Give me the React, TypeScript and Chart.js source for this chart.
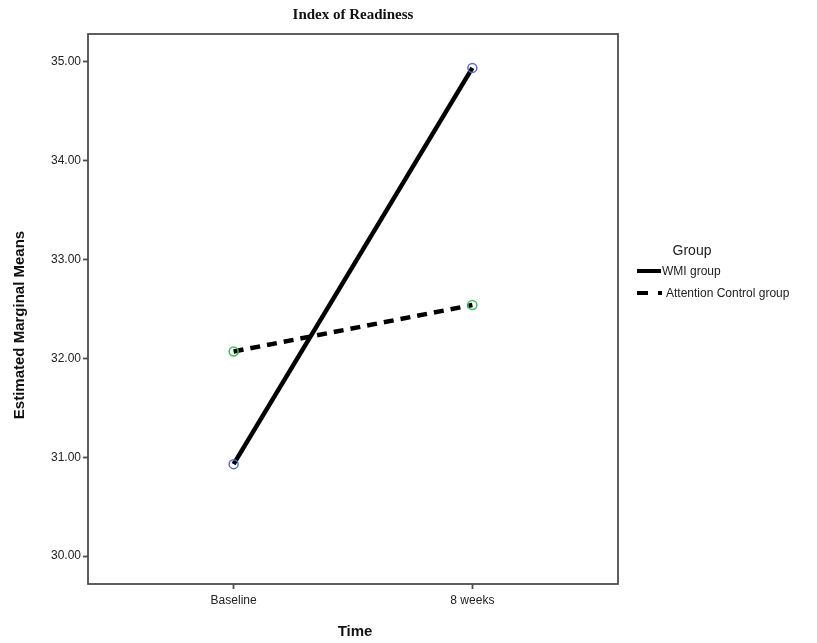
import React, { useEffect, useRef } from "react";
import { Chart, registerables } from "chart.js";

Chart.register(...registerables);

// Time points (x positions 1 and 2 on a linear scale)
const timeLabels = ["Baseline", "8 weeks"];
const timeValues = [1, 2];

// Estimated marginal means per group
const wmiMeans = [30.93, 34.94];
const controlMeans = [32.07, 32.54];

const yTicks = [30, 31, 32, 33, 34, 35];

const groupNames = ["WMI group", "Attention Control group"];
const chartTitle = "Index of Readiness";
const yTitle = "Estimated Marginal Means";
const xTitle = "Time";
const legendTitle = "Group";

const W = 817;
const H = 643;

const framePlugin = {
  id: "spssFrame",
  afterDraw(chart: any) {
    const ctx = chart.ctx;
    const a = chart.chartArea;
    ctx.save();
    // plot frame
    ctx.strokeStyle = "#4d4d4d";
    ctx.lineWidth = 1.8;
    ctx.strokeRect(a.left, a.top, a.right - a.left, a.bottom - a.top);

    // chart title
    ctx.fillStyle = "#111111";
    ctx.textAlign = "center";
    ctx.textBaseline = "middle";
    ctx.font = "bold 15px 'Liberation Serif', 'Times New Roman', serif";
    ctx.fillText(chartTitle, (a.left + a.right) / 2, 15);

    // axis titles
    ctx.font = "bold 15px 'Liberation Sans', Arial, sans-serif";
    ctx.fillText(xTitle, (a.left + a.right) / 2 + 2, 632);
    ctx.save();
    ctx.translate(20, 325);
    ctx.rotate(-Math.PI / 2);
    ctx.fillText(yTitle, 0, 0);
    ctx.restore();

    // legend
    ctx.fillStyle = "#222222";
    ctx.font = "14px 'Liberation Sans', Arial, sans-serif";
    ctx.fillText(legendTitle, 692, 251);

    ctx.textAlign = "left";
    ctx.font = "12px 'Liberation Sans', Arial, sans-serif";
    ctx.strokeStyle = "#000000";
    ctx.lineWidth = 4;
    ctx.lineCap = "butt";

    ctx.beginPath();
    ctx.moveTo(637, 271);
    ctx.lineTo(661, 271);
    ctx.stroke();
    ctx.fillText(groupNames[0], 662, 272);

    ctx.setLineDash([11, 10]);
    ctx.beginPath();
    ctx.moveTo(637, 293);
    ctx.lineTo(662, 293);
    ctx.stroke();
    ctx.setLineDash([]);
    ctx.fillText(groupNames[1], 666, 294);
    ctx.restore();
  },
};

export default function App() {
  const canvasRef = useRef<HTMLCanvasElement | null>(null);

  useEffect(() => {
    if (!canvasRef.current) return;
    const chart = new Chart(canvasRef.current, {
      type: "line",
      data: {
        datasets: [
          {
            label: groupNames[0],
            data: timeValues.map((x, i) => ({ x, y: wmiMeans[i] })),
            borderColor: "#000000",
            borderWidth: 4.5,
            pointRadius: 4.5,
            pointBorderWidth: 1.5,
            pointBackgroundColor: "rgba(0,0,0,0)",
            pointBorderColor: "#5a6ec8",
            fill: false,
          },
          {
            label: groupNames[1],
            data: timeValues.map((x, i) => ({ x, y: controlMeans[i] })),
            borderColor: "#000000",
            borderWidth: 4.5,
            borderDash: [10, 7],
            pointRadius: 4.5,
            pointBorderWidth: 1.5,
            pointBackgroundColor: "rgba(0,0,0,0)",
            pointBorderColor: "#45c05e",
            fill: false,
          },
        ],
      },
      options: {
        responsive: false,
        animation: false,
        layout: { padding: { left: 0, right: 199, top: 34, bottom: 0 } },
        plugins: {
          legend: { display: false },
          title: { display: false },
          tooltip: { enabled: false },
        },
        scales: {
          x: {
            type: "linear",
            min: 0.39,
            max: 2.61,
            afterBuildTicks: (scale: any) => {
              scale.ticks = timeValues.map((v) => ({ value: v }));
            },
            afterFit: (scale: any) => {
              scale.height = 59;
            },
            grid: {
              drawOnChartArea: false,
              drawTicks: true,
              tickLength: 5,
              tickWidth: 1.8,
              tickColor: "#4d4d4d",
            },
            border: { display: false },
            ticks: {
              padding: 4,
              color: "#222222",
              font: { family: "'Liberation Sans', Arial, sans-serif", size: 12 },
              maxRotation: 0,
              callback: (v: any) => {
                const i = timeValues.indexOf(Number(v));
                return i >= 0 ? timeLabels[i] : "";
              },
            },
          },
          y: {
            type: "linear",
            min: 29.717,
            max: 35.283,
            afterBuildTicks: (scale: any) => {
              scale.ticks = yTicks.map((v) => ({ value: v }));
            },
            afterFit: (scale: any) => {
              scale.width = 88;
            },
            grid: {
              drawOnChartArea: false,
              drawTicks: true,
              tickLength: 5,
              tickWidth: 1.8,
              tickColor: "#4d4d4d",
            },
            border: { display: false },
            ticks: {
              padding: 2,
              color: "#222222",
              font: { family: "'Liberation Sans', Arial, sans-serif", size: 12 },
              callback: (v: any) => Number(v).toFixed(2),
            },
          },
        },
      },
      plugins: [framePlugin],
    });
    return () => chart.destroy();
  }, []);

  return (
    <div style={{ position: "fixed", left: 0, top: 0, width: W, height: H, background: "#ffffff" }}>
      <canvas ref={canvasRef} width={W} height={H} style={{ width: W, height: H, display: "block" }} />
    </div>
  );
}
